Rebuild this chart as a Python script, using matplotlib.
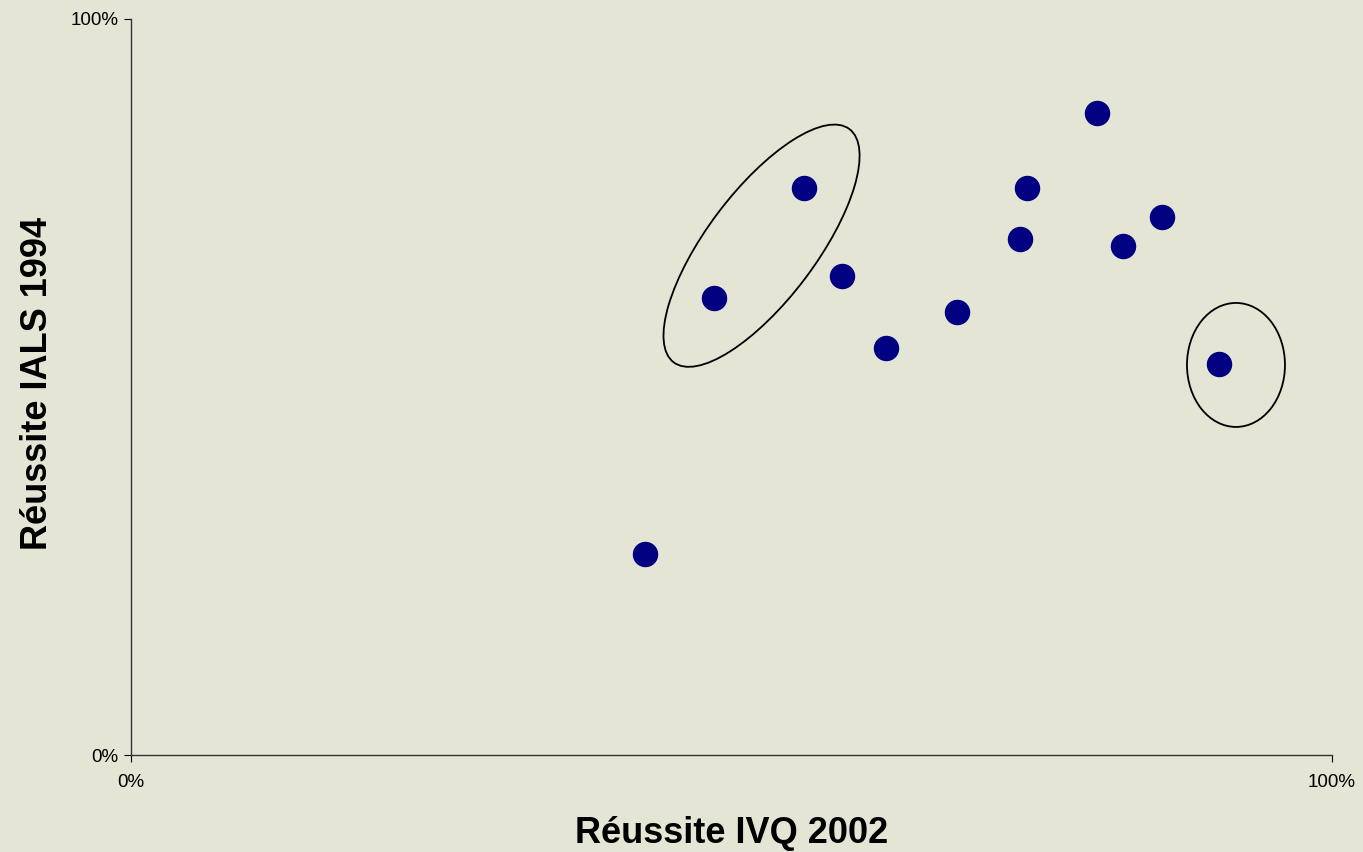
import matplotlib.pyplot as plt
from matplotlib.patches import Ellipse
from matplotlib.transforms import Affine2D

plt.rcParams['font.family'] = ['Liberation Sans', 'DejaVu Sans']

# Réussite (%) par pays
ivq_2002 = [42.8, 48.5, 56.0, 59.2, 62.9, 68.8, 74.0, 74.6, 80.4, 82.6, 85.8, 90.6]
ials_1994 = [27.3, 62.1, 77.0, 65.1, 55.3, 60.2, 70.1, 77.0, 87.2, 69.2, 73.1, 53.1]

# ellipses de mise en évidence : centre (%), largeur/hauteur (px), angle
groupes = [
    ((52.5, 69.2), 292, 109, 53),
    ((92.0, 53.0), 98, 124, 0),
]

fond = '#E5E5D6'

fig = plt.figure(figsize=(13.63, 8.52), dpi=100, facecolor=fond)
ax = fig.add_axes([0.0961, 0.1138, 0.8812, 0.8639])
ax.set_facecolor('none')

ax.scatter(ivq_2002, ials_1994, s=300, color='#000080', zorder=3)

ax.set_xlim(0, 100)
ax.set_ylim(0, 100)

# ellipses définies en pixels, placées sur les données
px = Affine2D().scale(100 / 1201, 100 / 736)
for (cx, cy), w, h, ang in groupes:
    tr = px + Affine2D().translate(cx, cy) + ax.transData
    e = Ellipse((0, 0), w, h, angle=ang, fill=False, edgecolor='black',
                linewidth=1.3, transform=tr, zorder=4)
    ax.add_patch(e)

ax.spines['top'].set_visible(False)
ax.spines['right'].set_visible(False)
for s in ['left', 'bottom']:
    ax.spines[s].set_color('#333333')
    ax.spines[s].set_linewidth(1.0)

ax.set_xticks([0, 100])
ax.set_xticklabels(['0%', '100%'])
ax.set_yticks([0, 100])
ax.set_yticklabels(['0%', '100%'])
ax.tick_params(axis='x', direction='out', length=5, pad=9, labelsize=13.5)
ax.tick_params(axis='y', direction='out', length=5, pad=4, labelsize=13.5)

ax.set_xlabel('Réussite IVQ 2002', fontsize=26, fontweight='bold', va='center')
ax.set_ylabel('Réussite IALS 1994', fontsize=26, fontweight='bold', va='center')
ax.xaxis.set_label_coords(0.5, -0.106)
ax.yaxis.set_label_coords(-0.078, 0.505)

fig.savefig('out.png', dpi=100, facecolor=fond)
